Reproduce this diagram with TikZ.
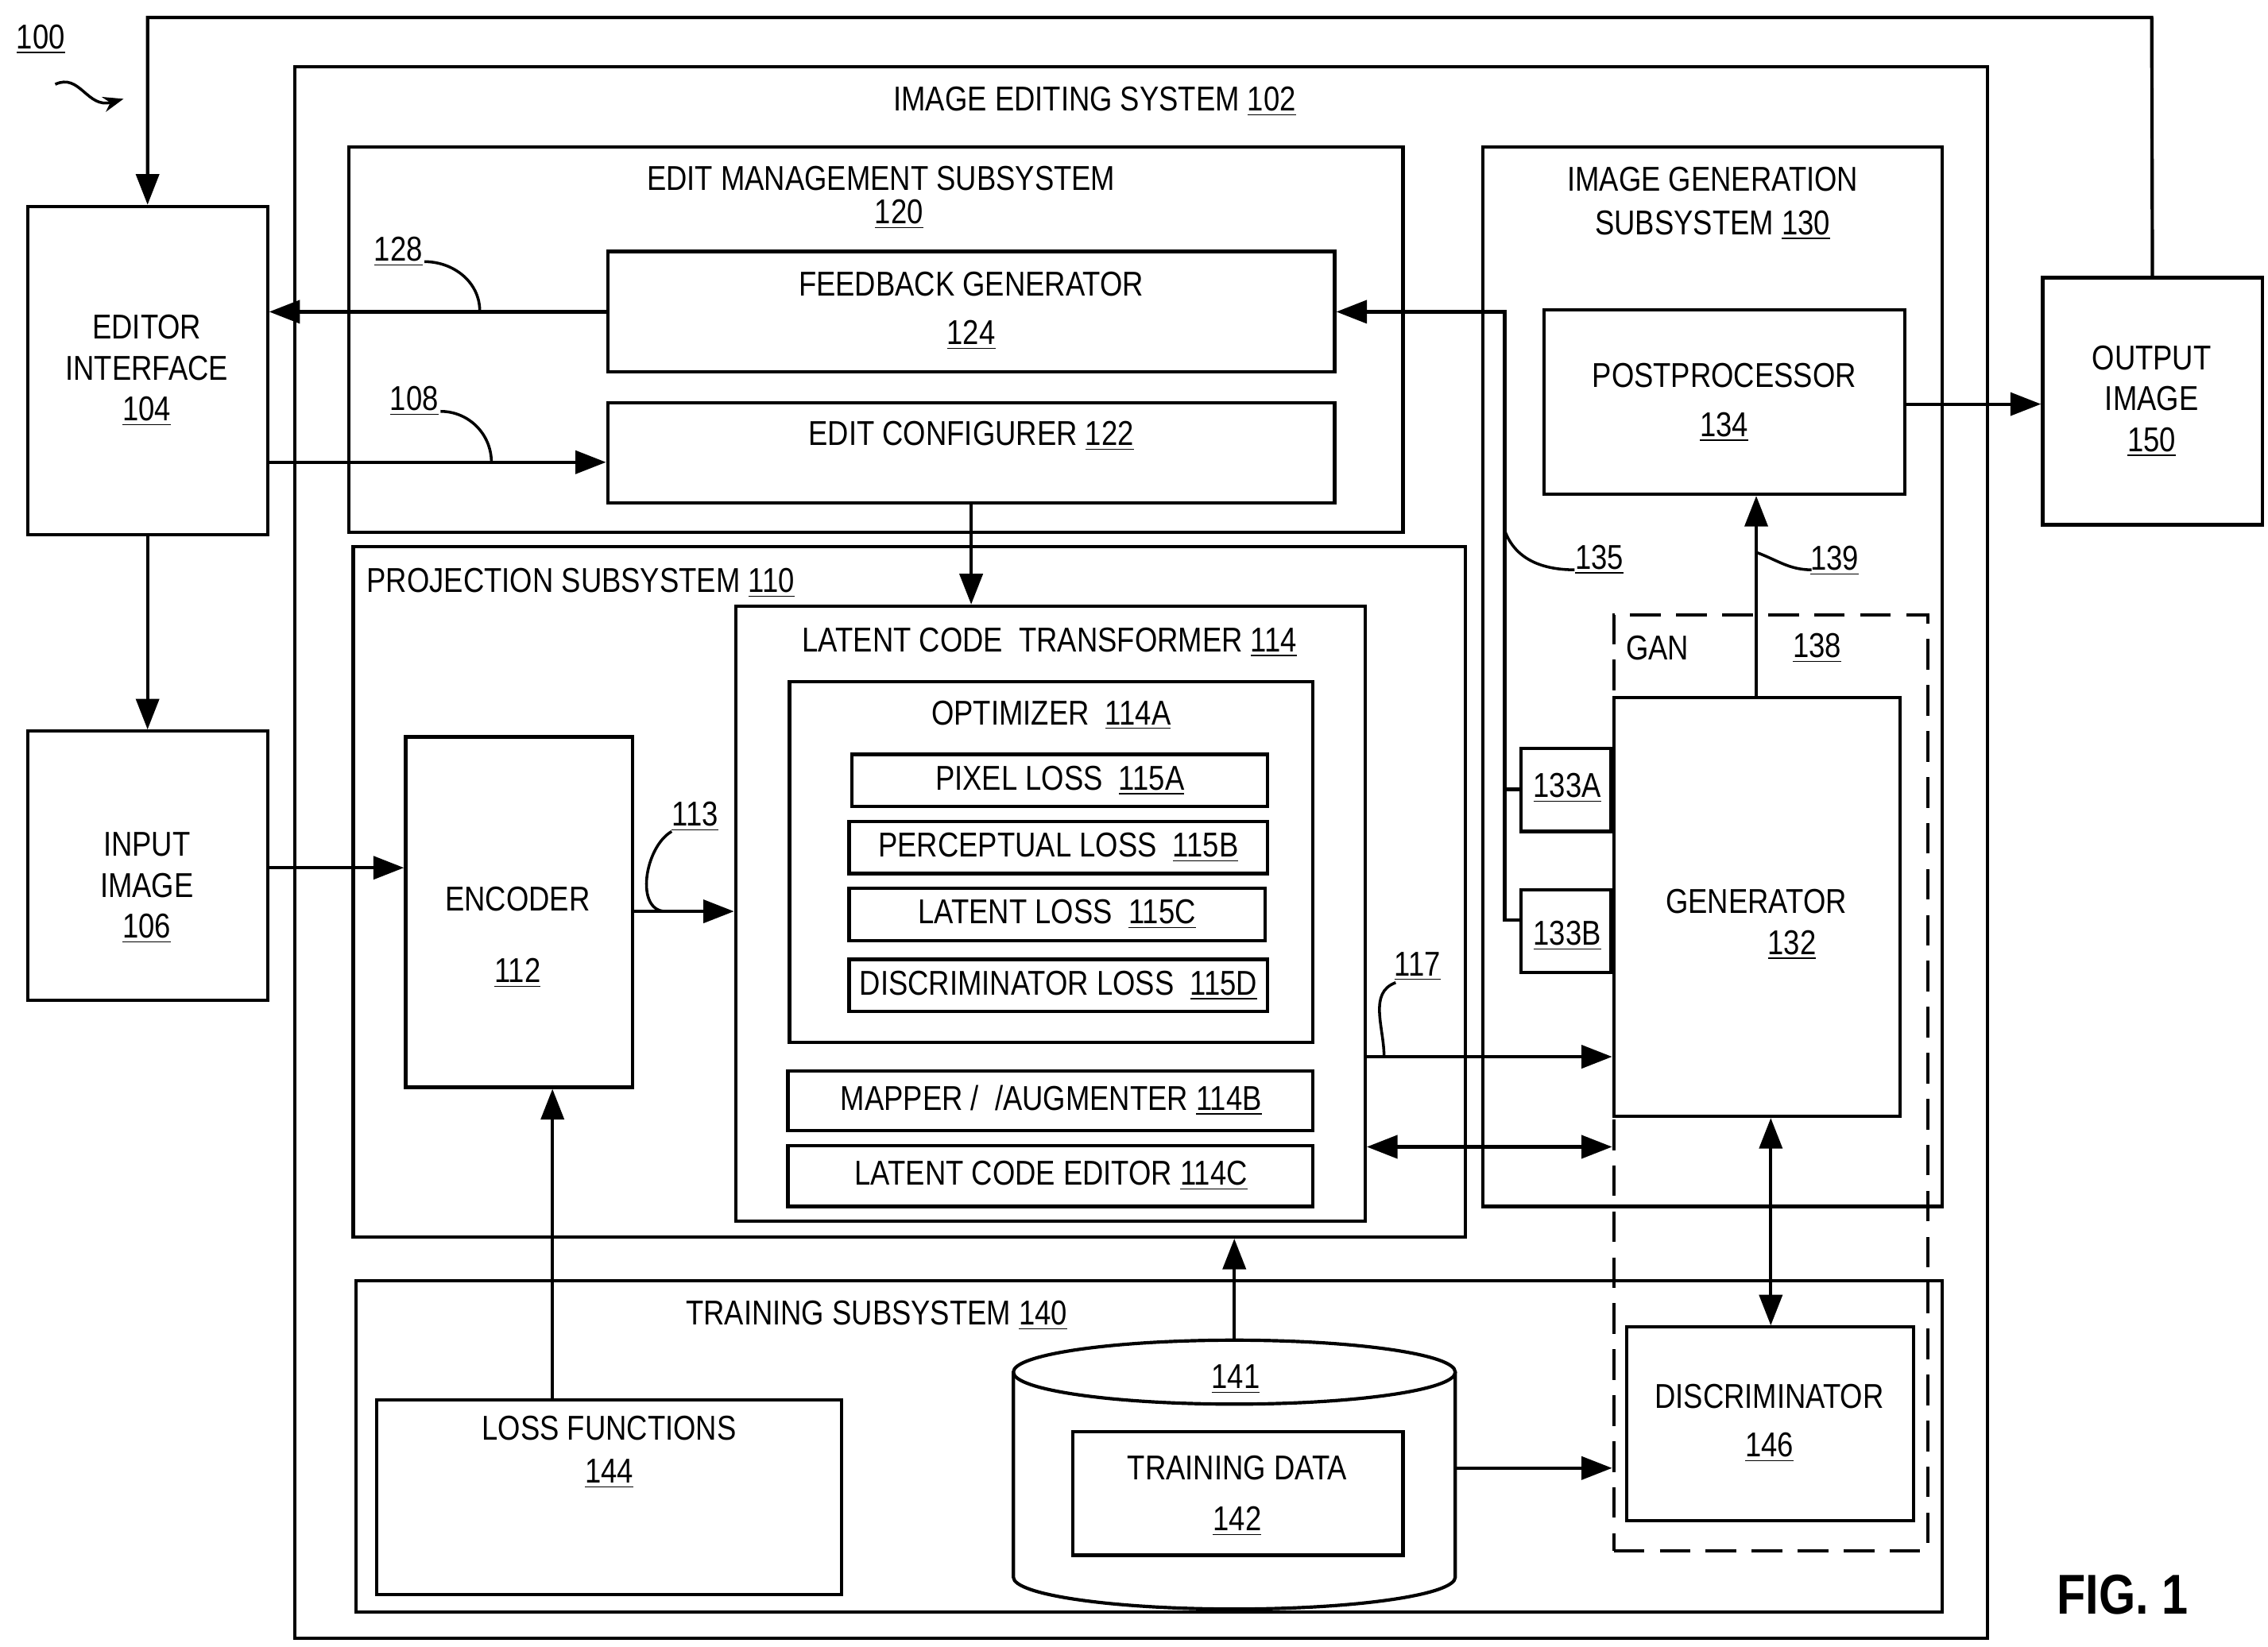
\documentclass[tikz,border=0pt]{standalone}
\usepackage{fontspec}
\setmainfont{Liberation Sans}[FakeStretch=0.84]
\usetikzlibrary{fit,arrows.meta}
\tikzset{
  box/.style={draw=black,line width=1.3pt,inner sep=0pt},
  dashbox/.style={draw=black,line width=1.3pt,inner sep=0pt,dash pattern=on 12pt off 6pt},
  arr/.style={line width=1.3pt,-{Triangle[length=12pt,width=9pt]}},
  darr/.style={line width=1.3pt,{Triangle[length=12pt,width=9pt]}-{Triangle[length=12pt,width=9pt]}},
  line/.style={line width=1.1pt},
  txt/.style={inner sep=0pt,align=center}
}
\newcommand{\un}[1]{\underline{#1}}
\begin{document}
\fontsize{13.5}{16}\selectfont
\begin{tikzpicture}[x=0.02cm,y=-0.02cm]
\useasboundingbox (0,0) rectangle (1560,1133);
% outer system
\node[box,fit={(203,46) (1367,1127)}] (sys) {};
\node[txt] (lsys) at (753,70) {IMAGE EDITING SYSTEM \un{102}};
% edit management
\node[box,fit={(240,101) (965,366)}] (edm) {};
\node[txt] (ledm) at (606,136) {EDIT MANAGEMENT SUBSYSTEM\\[-3pt]\hspace*{14pt}\un{120}};
\node[box,fit={(418,173) (918,256)}] (feedback) {};
\node[txt] (tfeed) at (668,214) {FEEDBACK GENERATOR\\[3pt]\un{124}};
\node[box,fit={(418,277) (918,346)}] (config) {};
\node[txt] (tconf) at (668,300) {EDIT CONFIGURER \un{122}};
% image generation
\node[box,fit={(1020,101) (1336,830)}] (igen) {};
\node[txt] (ligen) at (1178,140) {IMAGE GENERATION\\[1pt]SUBSYSTEM \un{130}};
\node[box,fit={(1062,213) (1310,340)}] (post) {};
\node[txt] (tpost) at (1186,277) {POSTPROCESSOR\\[3pt]\un{134}};
% outside boxes
\node[box,fit={(1405,191) (1556,361)}] (output) {};
\node[txt] (tout) at (1480,276) {OUTPUT\\IMAGE\\\un{150}};
\node[box,fit={(19,142) (184,368)}] (editor) {};
\node[txt] (tedit) at (101,255) {EDITOR\\INTERFACE\\\un{104}};
\node[box,fit={(19,503) (184,688)}] (input) {};
\node[txt] (tin) at (101,611) {INPUT\\IMAGE\\\un{106}};
% projection
\node[box,fit={(243,376) (1008,851)}] (proj) {};
\node[txt,anchor=west] (lproj) at (252,401) {PROJECTION SUBSYSTEM \un{110}};
\node[box,fit={(279,507) (435,748)}] (encoder) {};
\node[txt] (tenc) at (356,645) {ENCODER\\[12pt]\un{112}};
\node[box,fit={(506,417) (939,840)}] (lct) {};
\node[txt] (llct) at (722,442) {LATENT CODE\ \ TRANSFORMER \un{114}};
\node[box,fit={(543,469) (903,717)}] (opt) {};
\node[txt] (lopt) at (723,492) {OPTIMIZER\ \ \un{114A}};
\node[box,fit={(586,519) (872,555)}] (pixel) {};
\node[txt] (tpix) at (729,537) {PIXEL LOSS\ \ \un{115A}};
\node[box,fit={(584,565) (872,601)}] (percep) {};
\node[txt] (tper) at (728,583) {PERCEPTUAL LOSS\ \ \un{115B}};
\node[box,fit={(584,611) (870,647)}] (latent) {};
\node[txt] (tlat) at (727,629) {LATENT LOSS\ \ \un{115C}};
\node[box,fit={(584,660) (872,696)}] (dloss) {};
\node[txt] (tdl) at (728,678) {DISCRIMINATOR LOSS\ \ \un{115D}};
\node[box,fit={(542,737) (903,778)}] (mapper) {};
\node[txt] (tmap) at (723,757) {MAPPER /\ \ /AUGMENTER \un{114B}};
\node[box,fit={(542,788) (903,830)}] (lce) {};
\node[txt] (tlce) at (723,809) {LATENT CODE EDITOR \un{114C}};
% GAN
\node[dashbox,fit={(1110,423) (1326,1067)}] (gan) {};
\node[txt] (lgan) at (1140,446) {GAN};
\node[txt] (l138) at (1250,446) {\un{138}};
\node[box,fit={(1110,480) (1307,768)}] (gen) {};
\node[txt] (tgen) at (1208,636) {GENERATOR\\\hspace*{28pt}\un{132}};
\node[box,fit={(1046,515) (1108,572)}] (ia) {};
\node[txt] (tia) at (1078,542) {\un{133A}};
\node[box,fit={(1046,612) (1108,669)}] (ib) {};
\node[txt] (tib) at (1078,644) {\un{133B}};
% training
\node[box,fit={(245,881) (1336,1109)}] (train) {};
\node[txt] (ltrain) at (603,905) {TRAINING SUBSYSTEM \un{140}};
\node[box,fit={(259,963) (579,1097)}] (loss) {};
\node[txt] (lloss) at (419,999) {LOSS FUNCTIONS\\[1pt]\un{144}};
\draw[line width=1.3pt] (697,944) -- (697,1085) arc[x radius=152,y radius=-22,start angle=180,end angle=360] -- (1001,944);
\draw[line width=1.3pt] (849,944) ellipse[x radius=152,y radius=22];
\coordinate (db) at (849,922);
\node[txt] (l141) at (850,949) {\un{141}};
\node[box,fit={(738,985) (965,1070)}] (tdata) {};
\node[txt] (ttd) at (851,1029) {TRAINING DATA\\[4pt]\un{142}};
\node[box,fit={(1119,913) (1316,1046)}] (disc) {};
\node[txt] (tdisc) at (1217,979) {DISCRIMINATOR\\[3pt]\un{146}};
% connectors
\coordinate (top) at (1480,12);
\draw[arr] (output.north) -- (top) -| (editor.north);
\draw[arr] (feedback.west) -- (editor.east |- feedback.west);
\draw[arr] (editor.east |- 0,318) -- (config.west |- 0,318);
\coordinate (tap) at (1035,633);
\draw[arr] (ib.west |- tap) -- (tap) -- (tap |- feedback.east) -- (feedback.east);
\draw[line width=1.3pt] (ia.west |- 0,543) -- (tap |- 0,543);
\draw[arr] (config.south -| 668,0) -- (lct.north -| 668,0);
\draw[arr] (editor.south) -- (input.north);
\draw[arr] (input.east |- 0,597) -- (encoder.west |- 0,597);
\draw[arr] (encoder.east |- 0,627) -- (lct.west |- 0,627);
\draw[arr] (lct.east |- 0,727) -- (gen.west |- 0,727);
\draw[darr] (lct.east |- 0,789) -- (gan.west |- 0,789);
\draw[arr] (gen.north -| 1208,0) -- (post.south -| 1208,0);
\draw[darr] (gen.south -| 1218,0) -- (disc.north -| 1218,0);
\draw[arr] (1001,1010) -- (gan.west |- 0,1010);
\draw[arr] (db) -- (proj.south -| db);
\draw[arr] (loss.north -| 380,0) -- (encoder.south -| 380,0);
\draw[arr] (post.east |- 0,278) -- (output.west |- 0,278);
% reference labels
\node[txt] (l128) at (274,173) {\un{128}};
\draw[line] (292,180) to[out=0,in=90] (330,214);
\node[txt] (l108) at (285,276) {\un{108}};
\draw[line] (303,283) to[out=0,in=90] (338,318);
\node[txt] (l113) at (478,562) {\un{113}};
\draw[line] (462,572) to[out=210,in=180] (458,627);
\node[txt] (l117) at (975,665) {\un{117}};
\draw[line] (960,676) to[out=200,in=90] (952,727);
\node[txt] (l135) at (1100,385) {\un{135}};
\draw[line] (1083,392) to[out=180,in=-70] (1035,365);
\node[txt] (l139) at (1262,386) {\un{139}};
\draw[line] (1246,392) to[out=180,in=-20] (1208,380);
\node[txt] (l100) at (28,27) {\un{100}};
\draw[line,-{Stealth[length=8pt]}] (38,58) .. controls (55,50) and (60,75) .. (85,68);
\node[txt,font=\bfseries\fontsize{22}{26}\selectfont] (fig) at (1460,1097) {FIG. 1};
\end{tikzpicture}
\end{document}
